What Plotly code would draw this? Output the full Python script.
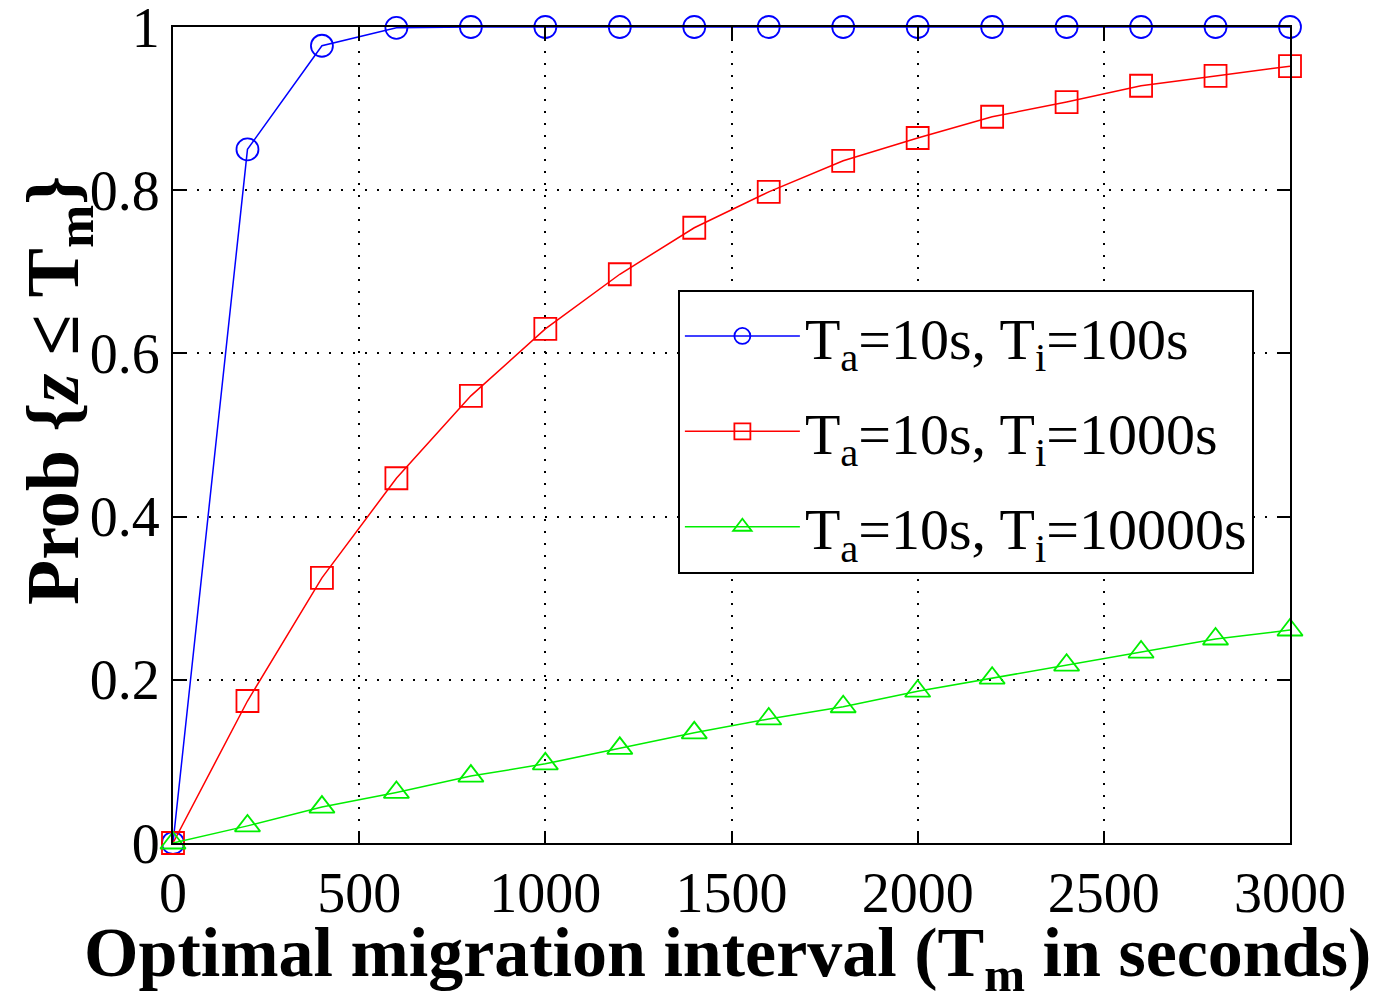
import plotly.graph_objects as go

tm = [0, 200, 400, 600, 800, 1000, 1200, 1400, 1600, 1800, 2000, 2200, 2400, 2600, 2800, 3000]
p_ti100 = [0, 0.850, 0.977, 0.999, 1.0, 1.0, 1.0, 1.0, 1.0, 1.0, 1.0, 1.0, 1.0, 1.0, 1.0, 1.0]
p_ti1000 = [0, 0.174, 0.325, 0.447, 0.548, 0.630, 0.697, 0.754, 0.798, 0.836, 0.864, 0.890, 0.908, 0.928, 0.940, 0.952]
p_ti10000 = [0, 0.021, 0.044, 0.062, 0.082, 0.097, 0.116, 0.135, 0.152, 0.167, 0.186, 0.202, 0.218, 0.234, 0.250, 0.261]
names = ["T<sub>a</sub>=10s, T<sub>i</sub>=100s",
         "T<sub>a</sub>=10s, T<sub>i</sub>=1000s",
         "T<sub>a</sub>=10s, T<sub>i</sub>=10000s"]
x_ticks = [0, 500, 1000, 1500, 2000, 2500, 3000]
y_ticks = [0, 0.2, 0.4, 0.6, 0.8, 1]
y_ticklabels = ["0", "0.2", "0.4", "0.6", "0.8", "1"]
x_title = "<b>Optimal migration interval (T<sub>m</sub> in seconds)</b>"
y_title = "<b>Prob {<i>z</i> ≤ T<sub>m</sub>}</b>"

FONT = "Liberation Serif"

fig = go.Figure()
styles = [
    ("#0000ff", "circle-open", 22),
    ("#ff0000", "square-open", 22),
    ("#00ee00", "triangle-up-open", 22),
]
for i, (ys, name, (col, sym, sz)) in enumerate(zip([p_ti100, p_ti1000, p_ti10000], names, styles)):
    fig.add_trace(go.Scatter(
        x=tm, y=ys, name=name, mode="lines+markers", legendgroup=f"g{i}",
        line=dict(color=col, width=1.5),
        marker=dict(symbol=sym, size=sz, color=col, line=dict(width=1.8, color=col)),
        cliponaxis=False,
    ))

axis_common = dict(
    showline=True, linecolor="black", linewidth=2, mirror="ticks",
    ticks="inside", ticklen=12, tickwidth=1.5, tickcolor="black",
    showgrid=True, gridcolor="black", griddash="2px,10px", gridwidth=2,
    zeroline=False, ticklabeloverflow="allow", automargin=False,
    tickfont=dict(family=FONT, size=56, color="black"),
)

fig.update_layout(
    width=1382, height=1007,
    paper_bgcolor="white", plot_bgcolor="white",
    margin=dict(l=165, r=100, t=19, b=172, autoexpand=False),
    font=dict(family=FONT, color="black"),
    xaxis=dict(range=[0, 3000], tickvals=x_ticks, ticktext=[str(v) for v in x_ticks],
               **axis_common),
    yaxis=dict(range=[0, 1], tickvals=y_ticks, ticktext=y_ticklabels, **axis_common),
    annotations=[
        dict(text=y_title, textangle=-90, xref="paper", yref="paper",
             x=-0.103, y=0.555, xanchor="center", yanchor="middle",
             showarrow=False, font=dict(family=FONT, size=74, color="black")),
        dict(text=x_title, xref="paper", yref="paper",
             x=0.496, y=-0.0846, xanchor="center", yanchor="top",
             showarrow=False, font=dict(family=FONT, size=70, color="black")),
    ],
    legend=dict(x=0.452, y=0.678, xanchor="left", yanchor="top",
                bgcolor="white", bordercolor="black", borderwidth=2,
                font=dict(family=FONT, size=58, color="black"),
                itemwidth=115, tracegroupgap=17),
    showlegend=True,
)

fig.write_html("out.html")
